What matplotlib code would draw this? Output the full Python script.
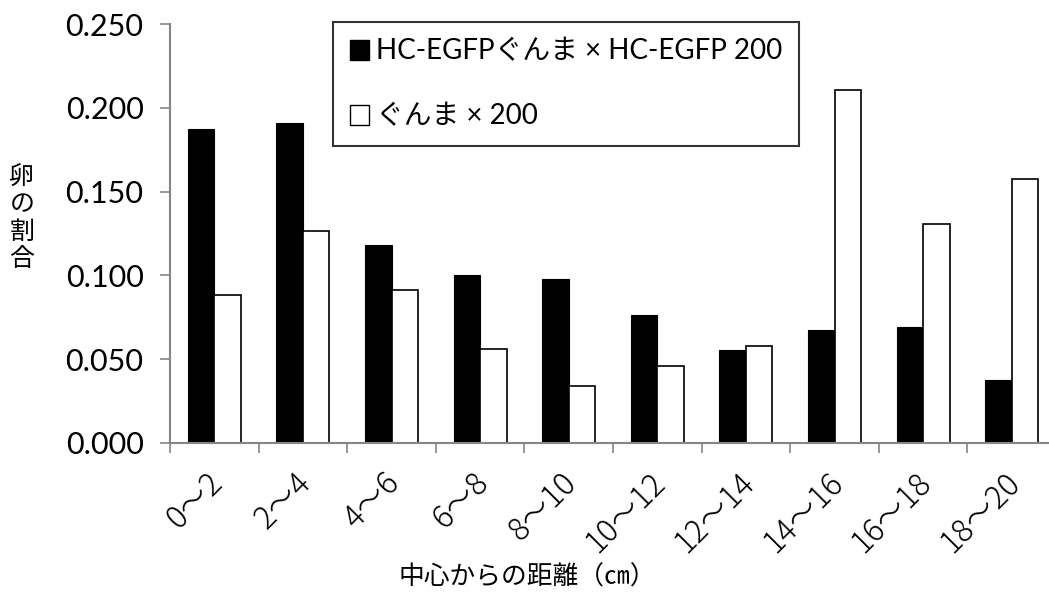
import numpy as np
import matplotlib.pyplot as plt
from matplotlib.patches import Patch

plt.rcParams['font.family'] = ['Lato', 'Noto Sans CJK JP', 'DejaVu Sans']

# Data
categories = ['0～2', '2～4', '4～6', '6～8', '8～10',
              '10～12', '12～14', '14～16', '16～18', '18～20']
egfp = [0.1875, 0.1911, 0.1183, 0.1004, 0.0980,
        0.0766, 0.0557, 0.0674, 0.0690, 0.0378]
gunma = [0.0883, 0.1265, 0.0915, 0.0563, 0.0342,
         0.0457, 0.0577, 0.2108, 0.1307, 0.1573]
series_names = ['HC-EGFPぐんま × HC-EGFP 200', 'ぐんま × 200']
yticks = [0.0, 0.05, 0.10, 0.15, 0.20, 0.25]

axis_gray = '#868686'
cjk = ['Noto Sans CJK JP', 'DejaVu Sans']

fig = plt.figure(figsize=(10.49, 6.05), dpi=100)
# axes runs a bit past the right edge, as in the reference
ax = fig.add_axes([170/1049, 162/605, 886/1049, 419/605])

x = np.arange(len(categories))
w = 0.3
ax.bar(x - w/2, egfp, width=w, color='black', edgecolor='black', linewidth=0.8)
ax.bar(x + w/2, gunma, width=w, color='white', edgecolor='black', linewidth=1.2)

ax.set_xlim(-0.5, len(categories) - 0.5)
ax.set_ylim(0, 0.25)
ax.set_yticks(yticks)
ax.set_yticklabels([f'{v:.3f}' for v in yticks], fontsize=22)

# labels sit slightly left of the category centre, like the original
ax.set_xticks(x - 0.09)
ax.set_xticklabels(categories, rotation=45, ha='right', rotation_mode='anchor',
                   fontsize=22.5, family=cjk, fontweight='light')
ax.tick_params(axis='x', which='major', length=0, pad=17)
ax.set_xticks(np.arange(len(categories) + 1) - 0.5, minor=True)
ax.tick_params(axis='x', which='minor', length=7, color=axis_gray, width=1.2)
ax.tick_params(axis='y', length=7, color=axis_gray, width=1.2, pad=12)

for s in ['top', 'right']:
    ax.spines[s].set_visible(False)
for s in ['left', 'bottom']:
    ax.spines[s].set_color(axis_gray)
    ax.spines[s].set_linewidth(1.5)

handles = [Patch(facecolor='black', edgecolor='black'),
           Patch(facecolor='white', edgecolor='black', linewidth=1)]
leg = ax.legend(handles, series_names, loc='upper left',
                bbox_to_anchor=(333/1049, 1 - 22/605), bbox_transform=fig.transFigure,
                fontsize=20, frameon=True, fancybox=False, borderaxespad=0,
                handlelength=0.7, handleheight=0.7, handletextpad=0.25,
                labelspacing=1.4, borderpad=0.6)
leg.get_frame().set_edgecolor('black')
leg.get_frame().set_linewidth(1.5)

fig.text(22/1049, 1 - 218/605, '卵\nの\n割\n合', fontsize=18, ha='center', va='center',
         linespacing=1.05, family=cjk)
fig.text(527/1049, 1 - 578/605, '中心からの距離（㎝）', fontsize=18.5, ha='center', va='center',
         family=cjk)

fig.savefig('out.png', dpi=100)
